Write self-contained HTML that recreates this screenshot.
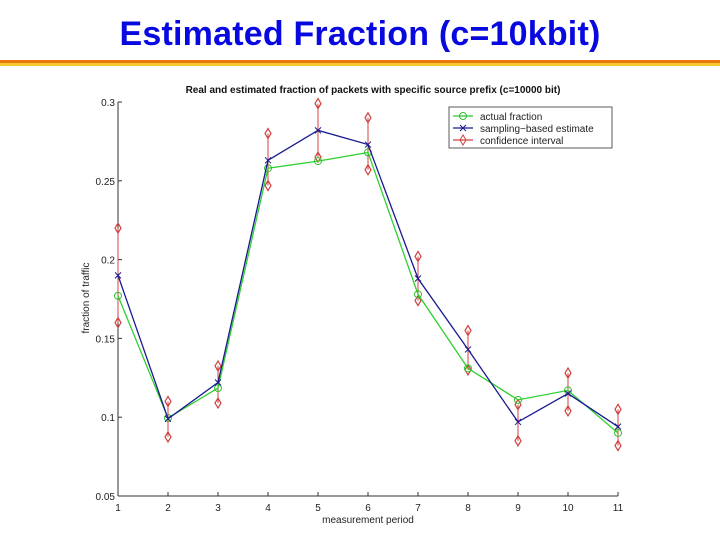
<!DOCTYPE html>
<html><head><meta charset="utf-8"><style>
body{margin:0;width:720px;height:540px;background:#fff;overflow:hidden;font-family:"Liberation Sans",sans-serif}
#title{position:absolute;left:0;width:720px;top:14px;text-align:center;font-weight:bold;font-size:34px;line-height:40px;color:#0808e0;letter-spacing:0.2px}
#bar1{position:absolute;left:0;top:60px;width:720px;height:3px;background:#e8780e}
#bar2{position:absolute;left:0;top:63px;width:720px;height:3px;background:#f8c830}
svg{position:absolute;left:0;top:0}
</style></head><body>
<div id="title">Estimated Fraction (c=10kbit)</div>
<div id="bar1"></div>
<div id="bar2"></div>
<svg id="chart" width="720" height="540" font-family="Liberation Sans, sans-serif"></svg>
<script>
const periods=[1,2,3,4,5,6,7,8,9,10,11];
const actual=[0.177,0.0995,0.1185,0.258,0.2625,0.268,0.178,0.131,0.111,0.117,0.090];
const estimate=[0.190,0.099,0.122,0.263,0.282,0.273,0.188,0.143,0.097,0.115,0.094];
const ciUpper=[0.220,0.110,0.1325,0.280,0.299,0.290,0.202,0.155,0.108,0.128,0.105];
const ciLower=[0.160,0.0875,0.109,0.247,0.265,0.257,0.174,0.130,0.085,0.104,0.082];
const yTicks=[0.05,0.1,0.15,0.2,0.25,0.3];
const yTickLabels=["0.05","0.1","0.15","0.2","0.25","0.3"];
const NS="http://www.w3.org/2000/svg";
const svg=document.getElementById('chart');
const X=v=>118+(v-1)*50;
const Y=v=>496-(v-0.05)*1576;
function mk(t,a,p){const e=document.createElementNS(NS,t);for(const k in a)e.setAttribute(k,a[k]);(p||svg).appendChild(e);return e;}
let e;
e=mk('text',{x:373,y:93,'text-anchor':'middle','font-size':'10','font-weight':'bold',fill:'#111'});e.textContent='Real and estimated fraction of packets with specific source prefix (c=10000 bit)';


e=mk('line',{x1:118,y1:Y(0.3),x2:118,y2:496,stroke:'#333','stroke-width':1});


e=mk('line',{x1:118,y1:496,x2:618,y2:496,stroke:'#333','stroke-width':1});


yTicks.forEach((t,i)=>{
 const l=mk('line',{x1:118,y1:Y(t),x2:122,y2:Y(t),stroke:'#333'});
 
 
 const tx=mk('text',{x:115,y:Y(t)+4,'text-anchor':'end','font-size':'10',fill:'#222'});tx.textContent=yTickLabels[i];
 
 
});
periods.forEach(p=>{
 const l=mk('line',{x1:X(p),y1:496,x2:X(p),y2:492,stroke:'#333'});
 
 
 const tx=mk('text',{x:X(p),y:511,'text-anchor':'middle','font-size':'10',fill:'#222'});tx.textContent=String(p);
 
 
});
e=mk('text',{x:368,y:523,'text-anchor':'middle','font-size':'10',fill:'#222'});e.textContent='measurement period';


e=mk('text',{x:0,y:0,'text-anchor':'middle','font-size':'10',fill:'#222',transform:'translate(89,298) rotate(-90)'});e.textContent='fraction of traffic';


periods.forEach((p,i)=>{
 const l=mk('line',{x1:X(p),y1:Y(ciUpper[i]),x2:X(p),y2:Y(ciLower[i]),stroke:'#d04040','stroke-width':1});
 
 
 [ciUpper[i],ciLower[i]].forEach(v=>{
  const x=X(p),y=Y(v);
  const d=mk('polygon',{points:`${x},${y-5} ${x+3},${y} ${x},${y+5} ${x-3},${y}`,fill:'none',stroke:'#d04040','stroke-width':1.2});
  
  
 });
});
e=mk('polyline',{points:periods.map((p,i)=>X(p)+','+Y(actual[i])).join(' '),fill:'none',stroke:'#30d030','stroke-width':1.3});


periods.forEach((p,i)=>{
 const c=mk('circle',{cx:X(p),cy:Y(actual[i]),r:3.5,fill:'none',stroke:'#30c030','stroke-width':1});
 
 
});
e=mk('polyline',{points:periods.map((p,i)=>X(p)+','+Y(estimate[i])).join(' '),fill:'none',stroke:'#1a1a90','stroke-width':1.3});


periods.forEach((p,i)=>{
 const x=X(p),y=Y(estimate[i]);
 const c=mk('path',{d:`M${x-3},${y-3}L${x+3},${y+3}M${x-3},${y+3}L${x+3},${y-3}`,stroke:'#1a1a90','stroke-width':1});
 
 
});
const g=mk('g',{});


mk('rect',{x:449,y:107,width:163,height:41,fill:'#fff',stroke:'#333','stroke-width':0.8},g);
const items=[['actual fraction','#30c030','o'],['sampling\u2212based estimate','#1a1a90','x'],['confidence interval','#d04040','d']];
items.forEach((it,i)=>{
 const y=116+i*12;
 const ln=mk('line',{x1:453,y1:y,x2:473,y2:y,stroke:it[1],'stroke-width':1.2},g);
 
 
 if(it[2]=='o')mk('circle',{cx:463,cy:y,r:3.5,fill:'none',stroke:it[1]},g);
 else if(it[2]=='x')mk('path',{d:`M460,${y-3}L466,${y+3}M460,${y+3}L466,${y-3}`,stroke:it[1]},g);
 else mk('polygon',{points:`463,${y-5} 466,${y} 463,${y+5} 460,${y}`,fill:'none',stroke:it[1]},g);
 const t=mk('text',{x:480,y:y+4,'font-size':'10',fill:'#222'},g);t.textContent=it[0];
 
 
});
</script>
</body></html>
